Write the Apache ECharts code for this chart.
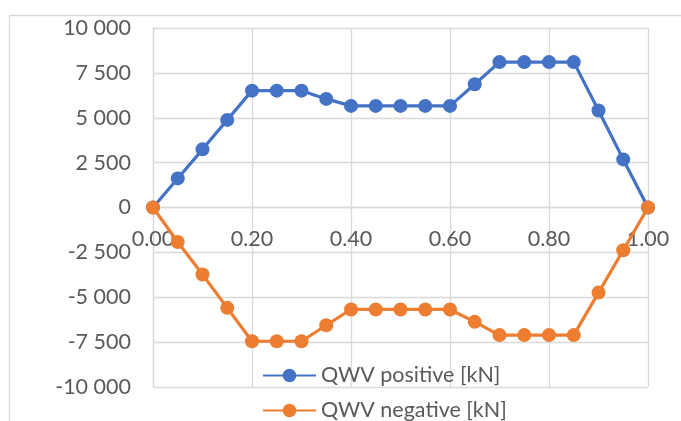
<!DOCTYPE html>
<html>
<head>
<meta charset="utf-8">
<script src="https://cdn.jsdelivr.net/npm/echarts@6/dist/echarts.min.js"></script>
<style>
  html, body { margin: 0; padding: 0; background: #ffffff; }
  #chart { width: 681px; height: 421px; }
</style>
</head>
<body>
<div id="chart"></div>
<script>
// Relative position along the member (0 … 1)
const positions = [0.00, 0.05, 0.10, 0.15, 0.20, 0.25, 0.30, 0.35, 0.40, 0.45, 0.50,
                   0.55, 0.60, 0.65, 0.70, 0.75, 0.80, 0.85, 0.90, 0.95, 1.00];

// Shear force envelope values [kN]
const qwvPositive = [0, 1620, 3240, 4880, 6510, 6510, 6510, 6050, 5660, 5660, 5660,
                     5660, 5660, 6870, 8100, 8100, 8100, 8100, 5400, 2680, 0];
const qwvNegative = [0, -1920, -3730, -5590, -7450, -7450, -7450, -6560, -5680, -5680, -5680,
                     -5680, -5680, -6370, -7110, -7110, -7110, -7110, -4740, -2380, 0];

const seriesNames = ['QWV positive [kN]', 'QWV negative [kN]'];

const FONT = 'Lato';
const TEXT = '#595959';
const GRID = '#d9d9d9';

// "10 000" style grouping with a space
function groupThousands(v) {
  const s = String(Math.abs(Math.round(v))).replace(/\B(?=(\d{3})+(?!\d))/g, ' ');
  return (v < 0 ? '-' : '') + s;
}

const pairs = arr => positions.map((x, i) => [x, arr[i]]);

const legendBase = {
  orient: 'vertical',
  left: 262,
  padding: 0,
  itemWidth: 53, itemHeight: 17,
  textStyle: { color: TEXT, fontFamily: FONT, fontSize: 21.5, lineHeight: 24 }
};

const chart = echarts.init(document.getElementById('chart'), null, { renderer: 'canvas' });

chart.setOption({
  backgroundColor: '#ffffff',
  animation: false,
  graphic: [{
    type: 'rect',
    left: 7, top: 13,
    shape: { width: 700, height: 440 },
    style: { fill: 'none', stroke: GRID, lineWidth: 1.3 },
    silent: true,
    z: -10
  }],
  grid: { left: 153, right: 33, top: 28, bottom: 34, outerBoundsMode: 'none' },
  xAxis: {
    type: 'value',
    min: 0, max: 1, interval: 0.2,
    axisLine: { show: true, onZero: true, lineStyle: { color: GRID, width: 1.3 } },
    axisTick: { show: false },
    axisLabel: {
      // tick labels sit just below the zero line
      color: TEXT, fontFamily: FONT, fontSize: 21.5, margin: -159,
      formatter: v => v.toFixed(2)
    },
    splitLine: { show: true, lineStyle: { color: GRID, width: 1.3 } }
  },
  yAxis: {
    type: 'value',
    min: -10000, max: 10000, interval: 2500,
    axisLine: { show: true, lineStyle: { color: GRID, width: 1.3 } },
    axisTick: { show: false },
    axisLabel: {
      color: TEXT, fontFamily: FONT, fontSize: 21.5, margin: 22,
      formatter: v => groupThousands(v)
    },
    splitLine: { show: true, lineStyle: { color: GRID, width: 1.3 } }
  },
  legend: [
    Object.assign({}, legendBase, { top: 363.5, data: [seriesNames[0]] }),
    Object.assign({}, legendBase, { top: 398.5, data: [seriesNames[1]] })
  ],
  series: [
    {
      name: seriesNames[0],
      type: 'line',
      data: pairs(qwvPositive),
      symbol: 'circle', symbolSize: 14, showAllSymbol: true,
      itemStyle: { color: '#4472C4' },
      lineStyle: { color: '#4472C4', width: 3.2 }
    },
    {
      name: seriesNames[1],
      type: 'line',
      data: pairs(qwvNegative),
      symbol: 'circle', symbolSize: 14, showAllSymbol: true,
      itemStyle: { color: '#ED7D31' },
      lineStyle: { color: '#ED7D31', width: 3.2 }
    }
  ]
});
</script>
</body>
</html>
